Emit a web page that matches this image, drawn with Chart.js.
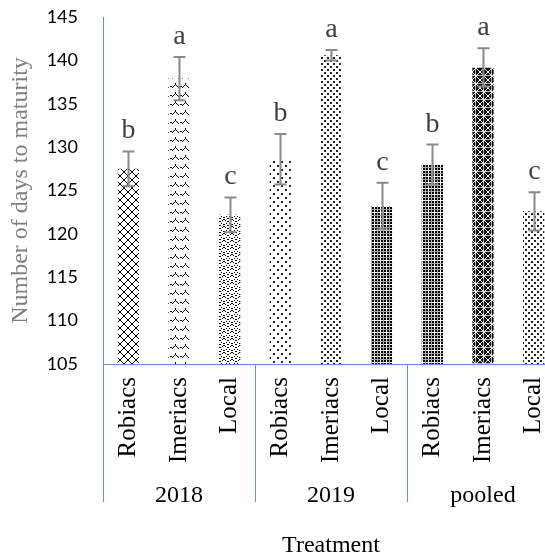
<!DOCTYPE html>
<html>
<head>
<meta charset="utf-8">
<style>
  html, body { margin: 0; padding: 0; overflow: hidden; background: #fff; }
  #wrap { width: 559px; height: 557px; }
</style>
<script src="https://cdn.jsdelivr.net/npm/chart.js@4/dist/chart.umd.min.js"></script>
</head>
<body>
<div id="wrap"><canvas id="c" width="559" height="557"></canvas></div>
<script>
// Days to maturity by variety, per season and pooled
const groups = ['2018', '2019', 'pooled'];
const treatments = ['Robiacs', 'Imeriacs', 'Local'];
const days2018 = [127.5, 137.9, 122.2];
const days2019 = [128.6, 140.6, 123.2];
const daysPooled = [128.0, 139.2, 122.6];
const se2018 = [2.0, 2.5, 2.0];
const se2019 = [2.9, 0.6, 2.7];
const sePooled = [2.3, 2.2, 2.2];
const letters2018 = ['b', 'a', 'c'];
const letters2019 = ['b', 'a', 'c'];
const lettersPooled = ['b', 'a', 'c'];
const yTicks = [105, 110, 115, 120, 125, 130, 135, 140, 145];

const values = [...days2018, ...days2019, ...daysPooled];
const errors = [...se2018, ...se2019, ...sePooled];
const letters = [...letters2018, ...letters2019, ...lettersPooled];
const labels = groups.flatMap(() => treatments);

const AXIS_BLUE = '#6a8fd2';
const SERIF = '"Liberation Serif", "Times New Roman", serif';

// ---- monochrome fill patterns ----
function makePattern(w, h, draw) {
  const t = document.createElement('canvas');
  t.width = w; t.height = h;
  const g = t.getContext('2d');
  g.fillStyle = '#fff';
  g.fillRect(0, 0, w, h);
  draw(g);
  return document.getElementById('c').getContext('2d').createPattern(t, 'repeat');
}
function px(g, pts, color) {
  g.fillStyle = color || '#000';
  pts.forEach(p => g.fillRect(p[0], p[1], 1, 1));
}

const lattice = makePattern(8, 8, g => {
  const pts = [];
  for (let i = 0; i < 8; i++) { pts.push([i, i]); pts.push([7 - i, i]); }
  px(g, pts);
});
const chevron = makePattern(10, 9, g => {
  px(g, [[2, 6], [3, 5], [4, 4], [5, 3], [6, 4], [7, 5], [8, 6], [0, 5], [1, 5], [5, 2]]);
});
const scallop = makePattern(8, 7, g => {
  px(g, [[0, 0], [0, 2], [1, 3], [3, 4], [4, 4], [6, 3], [7, 2], [7, 0], [3, 1], [4, 1], [2, 6], [5, 6]]);
});
const dotsSparse = makePattern(8, 8, g => {
  g.fillStyle = '#222';
  g.fillRect(1, 1, 2, 2);
  g.fillRect(5, 5, 2, 2);
});
const dotsDense = makePattern(6, 6, g => {
  g.fillStyle = '#222';
  g.fillRect(0, 0, 2, 2);
  g.fillRect(3, 3, 2, 2);
});
const plaid = makePattern(6, 6, g => {
  g.fillStyle = '#000';
  g.fillRect(0, 0, 6, 6);
  g.fillStyle = '#fff';
  g.fillRect(0, 2, 6, 1);
  g.fillRect(2, 0, 1, 6);
  g.fillStyle = '#aaa';
  g.fillRect(0, 5, 6, 1);
  g.fillRect(5, 0, 1, 6);
});
const plaidCross = makePattern(8, 8, g => {
  g.fillStyle = '#111';
  g.fillRect(0, 0, 8, 8);
  g.fillStyle = '#bbb';
  g.fillRect(0, 3, 8, 1);
  g.fillRect(3, 0, 1, 8);
  const pts = [];
  for (let i = 0; i < 8; i++) { pts.push([i, i]); pts.push([7 - i, i]); }
  px(g, pts, '#fff');
});

const fills = [lattice, chevron, scallop, dotsSparse, dotsDense, plaid, plaid, plaidCross, dotsDense];

// keep the plot area flush with the axis boxes
function noPadding(s) {
  s.paddingTop = 0; s.paddingBottom = 0; s.paddingLeft = 0; s.paddingRight = 0;
}

// ---- error bars, significance letters and group dividers ----
const annotations = {
  id: 'annotations',
  afterDatasetsDraw(chart) {
    const { ctx, scales: { x, x2, y } } = chart;
    const meta = chart.getDatasetMeta(0);
    ctx.save();
    meta.data.forEach((bar, i) => {
      const top = y.getPixelForValue(values[i] + errors[i]);
      const bot = y.getPixelForValue(values[i] - errors[i]);
      const cx = Math.round(bar.x) + 0.5;
      ctx.strokeStyle = '#8a8a8a';
      ctx.lineWidth = 2;
      ctx.beginPath();
      ctx.moveTo(cx, top); ctx.lineTo(cx, bot);
      ctx.moveTo(cx - 6, top); ctx.lineTo(cx + 6, top);
      ctx.moveTo(cx - 6, bot); ctx.lineTo(cx + 6, bot);
      ctx.stroke();
      ctx.fillStyle = '#404040';
      ctx.font = '28px ' + SERIF;
      ctx.textAlign = 'center';
      ctx.textBaseline = 'alphabetic';
      ctx.fillText(letters[i], cx, top - 13);
    });
    ctx.strokeStyle = AXIS_BLUE;
    ctx.lineWidth = 1;
    for (let k = 0; k <= groups.length; k++) {
      const gx = Math.round(x.left + k * x.width / groups.length) + 0.5;
      ctx.beginPath();
      ctx.moveTo(gx, x.top);
      ctx.lineTo(gx, x2.top + 26);
      ctx.stroke();
    }
    ctx.restore();
  }
};

new Chart(document.getElementById('c'), {
  type: 'bar',
  data: {
    labels: labels,
    datasets: [{
      data: values,
      backgroundColor: fills,
      borderWidth: 0,
      categoryPercentage: 1,
      barPercentage: 0.42
    }]
  },
  options: {
    responsive: false,
    animation: false,
    layout: { padding: { top: 17, left: 0, right: 0, bottom: 0 } },
    plugins: { legend: { display: false }, tooltip: { enabled: false } },
    scales: {
      y: {
        position: 'left',
        min: 105,
        max: 145,
        afterBuildTicks: s => { s.ticks = yTicks.map(v => ({ value: v })); },
        afterFit: s => { s.width = 103; noPadding(s); },
        grid: { display: false, drawTicks: false },
        border: { display: true, color: AXIS_BLUE, width: 1 },
        ticks: { color: '#000', padding: 25, font: { family: 'Lato', size: 18 } },
        title: {
          display: true,
          text: 'Number of days to maturity',
          color: '#7f7f7f',
          font: { family: SERIF, size: 24 },
          padding: { top: 6, bottom: 0 }
        }
      },
      x: {
        position: 'bottom',
        afterFit: s => { s.height = 112; noPadding(s); },
        grid: { display: false, drawTicks: false },
        border: { display: true, color: AXIS_BLUE, width: 1 },
        ticks: {
          color: '#000',
          autoSkip: false,
          maxRotation: 90,
          minRotation: 90,
          padding: 13,
          font: { family: SERIF, size: 25 }
        }
      },
      x2: {
        type: 'category',
        position: 'bottom',
        labels: groups,
        offset: true,
        afterFit: s => { s.height = 81; noPadding(s); },
        grid: { display: false, drawTicks: false },
        border: { display: false },
        ticks: { color: '#000', padding: 5, font: { family: SERIF, size: 24 } },
        title: {
          display: true,
          text: 'Treatment',
          color: '#000',
          font: { family: SERIF, size: 24, lineHeight: 0.9 },
          padding: { top: 0, bottom: 0 }
        }
      }
    }
  },
  plugins: [annotations]
});
</script>
</body>
</html>
